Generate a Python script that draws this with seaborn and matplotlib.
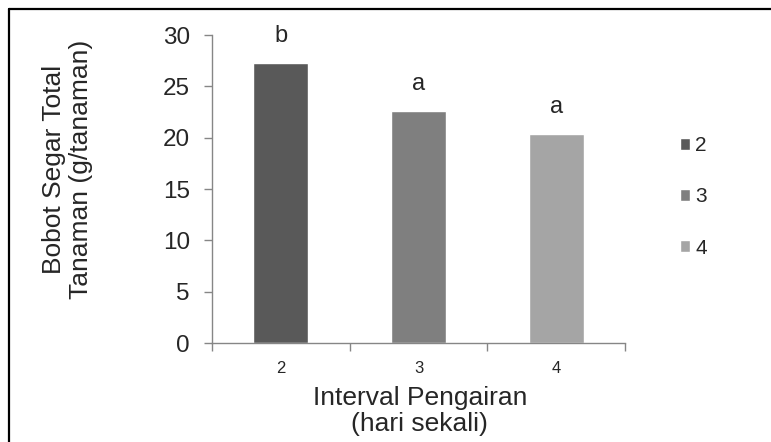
import matplotlib
matplotlib.use("Agg")
import matplotlib.pyplot as plt
import matplotlib.lines as mlines
import seaborn as sns
import pandas as pd

categories = ["2", "3", "4"]
values = [27.3, 22.6, 20.4]
letters = ["b", "a", "a"]
colors = ["#595959", "#7f7f7f", "#a5a5a5"]

sns.set_style("white")
plt.rcParams["font.family"] = ["Liberation Sans", "DejaVu Sans"]

df = pd.DataFrame({"interval": categories, "bobot": values})

fig = plt.figure(figsize=(7.71, 4.42), dpi=100)
ax = fig.add_axes([212 / 771, 1 - 343 / 442, (625 - 212) / 771, (343 - 35) / 442])

sns.barplot(data=df, x="interval", y="bobot", hue="interval", palette=colors,
            width=0.4, dodge=False, ax=ax, legend=True, saturation=1)

ax.set_ylim(0, 30)
ax.set_xlim(-0.5, 2.5)
ax.set_yticks([0, 5, 10, 15, 20, 25, 30])
ax.tick_params(axis="y", labelsize=17.5, length=6, width=1, color="#868686",
               direction="out", left=True, pad=10)
# x: labels at centres, tick marks at boundaries
ax.set_xticks([0, 1, 2])
ax.set_xticklabels(categories)
ax.tick_params(axis="x", labelsize=12, length=0, pad=13)
ax.set_xticks([-0.5, 0.5, 1.5, 2.5], minor=True)
ax.tick_params(axis="x", which="minor", length=6, width=1, color="#868686",
               direction="out", bottom=True)

for s in ["top", "right"]:
    ax.spines[s].set_visible(False)
for s in ["left", "bottom"]:
    ax.spines[s].set_color("#868686")
    ax.spines[s].set_linewidth(1)

for i, (v, l) in enumerate(zip(values, letters)):
    ax.text(i, v + 2.6, l, ha="center", va="center", fontsize=17)

ax.set_ylabel("Bobot Segar Total\nTanaman (g/tanaman)", fontsize=19, linespacing=1.15)
ax.yaxis.set_label_coords(-0.288, 0.565)
ax.set_xlabel("Interval Pengairan\n(hari sekali)", fontsize=19, linespacing=1.12)
ax.xaxis.set_label_coords(0.503, -0.14)

handles, labels = ax.get_legend_handles_labels()
ax.get_legend().remove()
fig.legend(handles, labels, loc="center left", bbox_to_anchor=(661 / 771, 1 - 197 / 442),
           frameon=False, fontsize=15, handlelength=0.5, handleheight=0.5,
           handletextpad=0.25, labelspacing=1.55)

# figure frame (top and left edges visible)
fx, fy = 8.5 / 771, 1 - 8.5 / 442
fig.add_artist(mlines.Line2D([fx, 1.0], [fy, fy], transform=fig.transFigure,
                             color="black", linewidth=1.6))
fig.add_artist(mlines.Line2D([fx, fx], [0.0, fy], transform=fig.transFigure,
                             color="black", linewidth=1.6))

fig.savefig("out.png", dpi=100)
